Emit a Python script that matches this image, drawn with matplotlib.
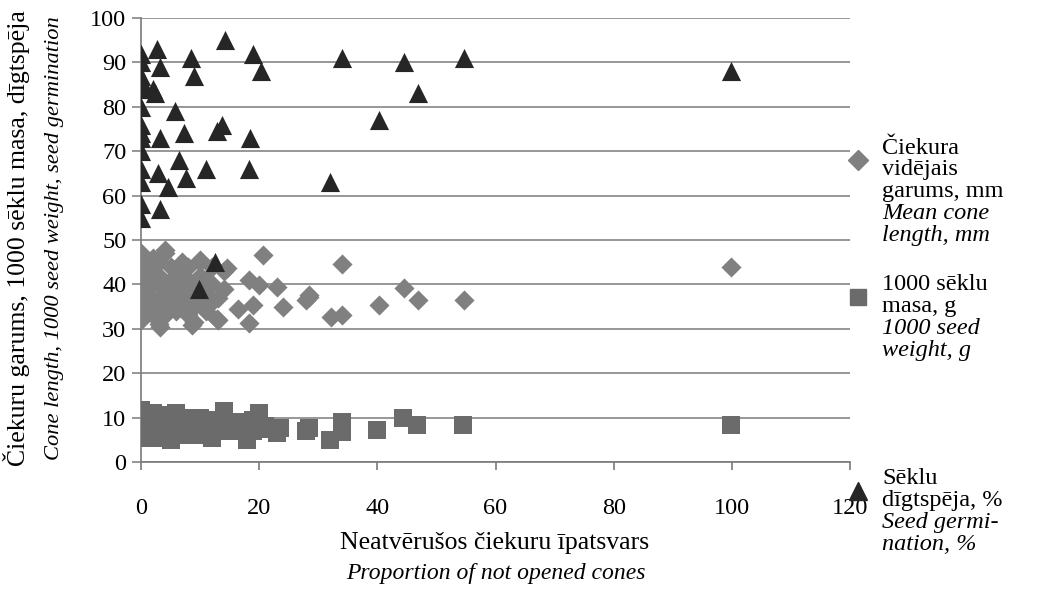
import matplotlib
matplotlib.use("Agg")
import matplotlib.pyplot as plt
from matplotlib.lines import Line2D

plt.rcParams["font.family"] = ["Liberation Serif", "DejaVu Serif"]

# Mean cone length, mm
cone_x = [0, 0, 0, 0, 0, 0, 0, 0, 0, 0, 0, 0, 0, 0, 0, 0,
          1, 1, 1, 1, 2, 2, 2, 2, 2, 3, 3, 3, 3, 3, 4, 4, 4, 4,
          5, 5, 5, 5, 6, 6, 6, 6, 7, 7, 7, 7, 8, 8, 8, 8,
          9, 9, 9, 9, 10, 10, 10, 10, 11, 11, 11, 12, 12, 12, 13, 13, 14, 14,
          20.7, 18.2, 19.9, 23, 28.4, 24, 19, 16.5, 18.2, 12.8, 8.7, 3.2, 4.1, 14.5, 10,
          34.1, 99.8, 28.5, 28, 32.1, 34.1, 40.2, 44.5, 46.8, 54.6]
cone_y = [32, 33, 34, 35, 36, 37, 38, 39, 40, 41, 42, 43, 44, 45, 46, 47,
          35, 38, 41, 44, 33, 36, 40, 43, 46, 31, 34, 37, 42, 45, 47, 39, 33, 36,
          35, 38, 41, 44, 34, 37, 40, 43, 36, 39, 42, 45, 33, 38, 41, 44,
          35, 37, 40, 31.5, 36, 39, 42, 45, 34, 38, 41, 36, 40, 44, 32, 37, 39, 43,
          46.6, 41, 39.9, 39.5, 37.2, 35, 35.4, 34.4, 31.2, 32.1, 30.9, 30.5, 47.7, 43.6, 45.5,
          44.6, 43.9, 37.6, 36.5, 32.7, 33.1, 35.4, 39.3, 36.5, 36.5]

# 1000 seed weight, g
seed_x = [0, 0, 0, 0, 0, 1, 1, 1, 2, 2, 2, 3, 3, 3, 4, 4, 5, 5, 5, 6, 6, 6,
          7, 7, 8, 8, 8, 9, 9, 10, 10, 10, 11, 11, 12, 12, 13, 13, 14, 14,
          15, 15, 16, 17, 18, 18, 19, 19, 20, 20, 21, 23, 23.6,
          28.4, 28, 34, 34, 32, 40, 44.3, 46.7, 54.5, 99.8]
seed_y = [5.5, 7, 8.5, 10, 11.8, 6, 8, 10, 7, 9, 11, 5.5, 8, 10.5, 6.5, 9, 5, 8, 10.5, 6, 9, 11,
          7, 9.5, 6, 8.5, 10, 7.5, 9.5, 6, 8.5, 10, 7, 9, 5.5, 8, 7, 9.5, 8.5, 11.5,
          7, 9, 8, 7.5, 5, 9, 7, 9.5, 7.5, 11, 8, 6.5, 7.6,
          7.6, 7, 9.1, 6.8, 5, 7.2, 9.8, 8.3, 8.3, 8.3]

# Seed germination, %
germ_x = [0, 2.7, 14.2, 8.4, 19, 34, 3.2, 20.3, 9, 0, 0, 0, 0, 0.5, 2, 2.3,
          0, 5.8, 13.7, 12.8, 7.2, 3.2, 18.5, 0, 0, 0, 0, 6.4, 11, 18.2, 2.9,
          0, 0, 7.7, 4.6, 32, 0, 3.2, 0, 44.5, 54.6, 46.8, 40.2, 99.8, 12.5, 9.9]
germ_y = [92, 93, 95, 91, 92, 91, 89, 88, 87, 90, 87, 86, 85, 84, 84, 83,
          80, 79, 76, 74.5, 74, 73, 73, 76, 74, 73, 70, 68, 66, 66, 65,
          66, 63, 64, 62, 63, 58, 57, 55, 90, 91, 83, 77, 88, 45, 39]

y_ticks = [0, 10, 20, 30, 40, 50, 60, 70, 80, 90, 100]
x_ticks = [0, 20, 40, 60, 80, 100, 120]

legend_entries = [
    ("D", "#808080", ["Čiekura", "vidējais", "garums, mm"], ["Mean cone", "length, mm"]),
    ("s", "#6b6b6b", ["1000 sēklu", "masa, g"], ["1000 seed", "weight, g"]),
    ("^", "#262626", ["Sēklu", "dīgtspēja, %"], ["Seed germi-", "nation, %"]),
]

FS = 17.5
FS_TITLE = 18.5
W, H = 1045, 596

fig = plt.figure(figsize=(W / 100, H / 100), dpi=100)
ax = fig.add_axes([141 / W, 1 - 462 / H, (850 - 141) / W, (462 - 18) / H])

ax.scatter(seed_x, seed_y, marker="s", s=150, color="#6b6b6b", linewidths=0, zorder=3)
ax.scatter(cone_x, cone_y, marker="D", s=105, color="#808080", linewidths=0, zorder=4)
ax.scatter(germ_x, germ_y, marker="^", s=190, color="#262626", linewidths=0, zorder=5)

ax.set_xlim(0, 120)
ax.set_ylim(0, 100)
ax.set_xticks(x_ticks)
ax.set_yticks(y_ticks)
ax.yaxis.grid(True, color="#8f8f8f", linewidth=1.3)
ax.set_axisbelow(True)
for side in ("top", "right"):
    ax.spines[side].set_visible(False)
for side in ("left", "bottom"):
    ax.spines[side].set_color("#7a7a7a")
    ax.spines[side].set_linewidth(1.2)
ax.tick_params(axis="x", direction="out", length=6, width=1.2, color="#7a7a7a",
               labelsize=FS, pad=20)
ax.tick_params(axis="y", direction="out", length=6.5, width=1.3, color="#8f8f8f",
               labelsize=FS, pad=4)

# axis titles, Latvian and English lines
fig.text(495 / W, 1 - 543 / H, "Neatvērušos čiekuru īpatsvars", fontsize=FS_TITLE,
         ha="center", va="center")
fig.text(496 / W, 1 - 574 / H, "Proportion of not opened cones", fontsize=17,
         style="italic", ha="center", va="center")
fig.text(17 / W, 1 - 238 / H, "Čiekuru garums, 1000 sēklu masa, dīgtspēja", fontsize=FS_TITLE,
         rotation=90, ha="center", va="center")
fig.text(55 / W, 1 - 238 / H, "Cone length, 1000 seed weight, seed germination", fontsize=16.2,
         style="italic", rotation=90, ha="center", va="center")

# legend on the right
starts = [148, 285, 479]
step = 21.8
for (marker, color, reg, ital), y0 in zip(legend_entries, starts):
    ms = {"D": 10, "s": 12, "^": 13.5}[marker]
    fig.add_artist(Line2D([858 / W], [1 - (y0 + 12) / H], transform=fig.transFigure,
                          marker=marker, markersize=ms, color=color, linestyle="none"))
    lines = [(t, "normal") for t in reg] + [(t, "italic") for t in ital]
    for i, (t, st) in enumerate(lines):
        fig.text(882 / W, 1 - (y0 + i * step) / H, t, fontsize=FS, style=st,
                 ha="left", va="center")

fig.savefig("out.png", dpi=100)
